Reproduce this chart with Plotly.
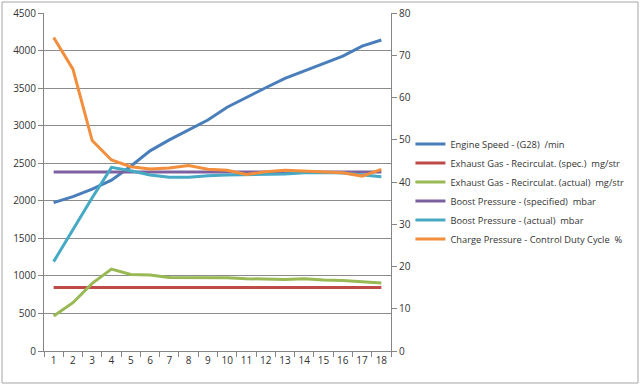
import plotly.graph_objects as go

categories = [str(i) for i in range(1, 19)]

engine_speed = [1975, 2055, 2155, 2275, 2460, 2665, 2810, 2940, 3075, 3245, 3380, 3505, 3630, 3730, 3830, 3925, 4060, 4140]
egr_spec = [845] * 18
egr_actual = [466, 643, 901, 1091, 1020, 1011, 980, 980, 980, 976, 962, 953, 953, 962, 944, 940, 927, 905]
boost_spec = [2383] * 18
boost_actual = [1190, 1620, 2040, 2445, 2400, 2343, 2312, 2312, 2334, 2343, 2350, 2347, 2356, 2373, 2378, 2370, 2350, 2321]
charge_duty = [74.2, 66.7, 49.8, 45.2, 43.6, 43.1, 43.3, 43.9, 43.0, 42.8, 41.8, 42.4, 42.8, 42.6, 42.3, 42.2, 41.4, 43.0]

names = [
    "Engine Speed - (G28)  /min",
    "Exhaust Gas - Recirculat. (spec.)  mg/str",
    "Exhaust Gas - Recirculat. (actual)  mg/str",
    "Boost Pressure - (specified)  mbar",
    "Boost Pressure - (actual)  mbar",
    "Charge Pressure - Control Duty Cycle  %",
]
colors = ["#4A7EBB", "#BE4B48", "#98B954", "#7D60A0", "#46AAC5", "#F28E3C"]

fig = go.Figure()
series = [engine_speed, egr_spec, egr_actual, boost_spec, boost_actual]
for vals, nm, c in zip(series, names[:5], colors[:5]):
    fig.add_trace(go.Scatter(x=categories, y=vals, name=nm, mode="lines",
                             line=dict(color=c, width=3)))
fig.add_trace(go.Scatter(x=categories, y=charge_duty, name=names[5], mode="lines",
                         line=dict(color=colors[5], width=3), yaxis="y2"))

font = dict(family="Open Sans, sans-serif", size=10, color="#333333")
fig.update_layout(
    width=640, height=388,
    margin=dict(l=44, r=249, t=13, b=37, autoexpand=False),
    paper_bgcolor="white", plot_bgcolor="white",
    font=font,
    showlegend=True,
    legend=dict(x=1.056, y=0.655, xanchor="left", yanchor="top",
                font=dict(family="Open Sans, sans-serif", size=9.3, color="#333333"),
                itemwidth=30, tracegroupgap=0, bgcolor="rgba(0,0,0,0)"),
    xaxis=dict(type="category", range=[-0.5, 17.5], tickson="boundaries",
               ticks="outside", ticklen=5, tickcolor="#868686", tickangle=0,
               automargin=False,
               showline=True, linecolor="#868686", showgrid=False,
               tickfont=dict(size=10)),
    yaxis=dict(range=[0, 4500], dtick=500, showgrid=True, gridcolor="#8C8C8C",
               gridwidth=1, showline=True, linecolor="#868686", automargin=False,
               ticks="outside", ticklen=5, tickcolor="#868686", zeroline=False,
               tickfont=dict(size=10)),
    yaxis2=dict(range=[0, 80], dtick=10, overlaying="y", side="right",
                showgrid=False, showline=True, linecolor="#868686", automargin=False,
                ticks="outside", ticklen=5, tickcolor="#868686", zeroline=False,
                tickfont=dict(size=10)),
    shapes=[dict(type="rect", xref="paper", yref="paper",
                 x0=-42/347, x1=(638-44)/347, y0=-(383-351)/338, y1=(351-2)/338,
                 line=dict(color="#A6A6A6", width=1), fillcolor="rgba(0,0,0,0)")],
)

fig.write_html("out.html",
               config={"displayModeBar": False},
               post_script="document.body.style.margin='0';document.body.style.padding='0';")
